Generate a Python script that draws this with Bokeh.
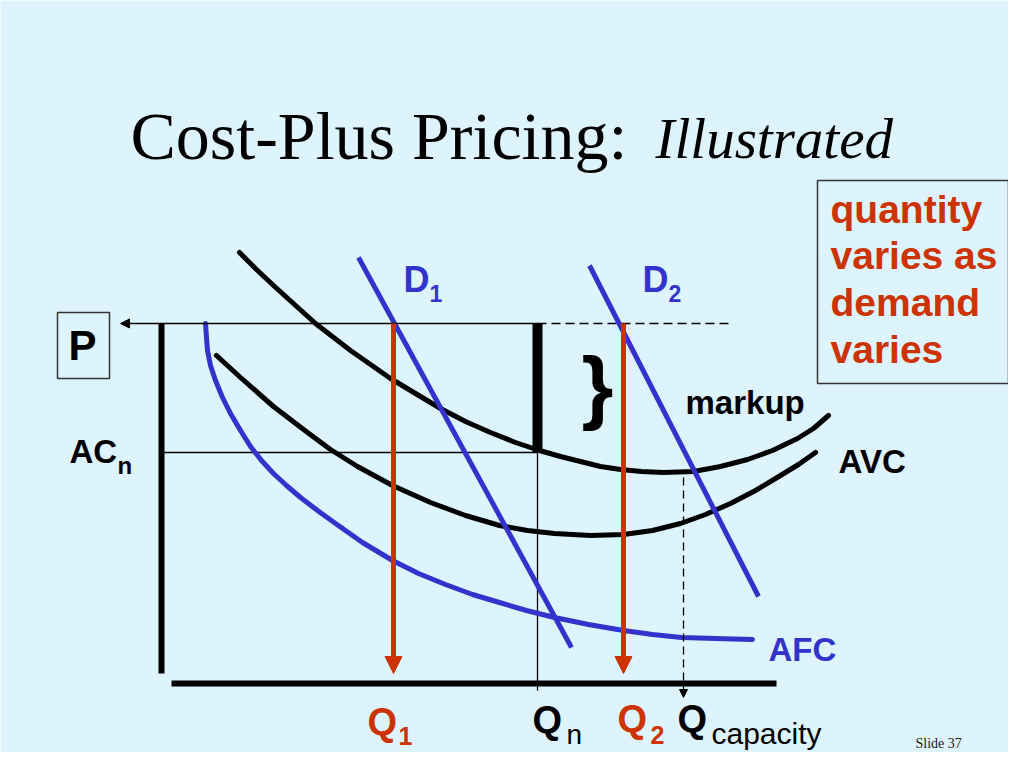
from bokeh.plotting import figure
from bokeh.models import Range1d, Arrow, NormalHead
from bokeh.core.properties import value
from bokeh.embed import file_html
from bokeh.resources import INLINE

# ---- data (quantity q, price p; origin at the axes corner) ----
ac_q = [78, 95, 112, 133, 154, 189, 209, 229, 254, 279, 304, 329, 354, 378, 399, 419,
        439, 459, 480, 502, 532, 559, 586, 611, 636, 652, 667]
ac_p = [431, 414, 398, 379, 360, 333, 319, 305, 290, 275, 262, 251, 241, 233, 227, 222,
        217, 214, 212, 211, 212, 217, 224, 233, 245, 255, 268]

avc_q = [55, 79, 112, 146, 169, 196, 231, 269, 304, 338, 366, 393, 429, 462, 491, 519,
         544, 569, 594, 619, 637, 654]
avc_p = [328, 306, 277, 251, 234, 217, 198, 181, 168, 158, 153, 150, 148, 149, 153, 160,
         169, 180, 193, 208, 219, 231]

afc_q = [44, 45, 46, 49, 54, 61, 69, 79, 89, 100, 112, 125, 139, 156, 174, 201, 231, 257,
         284, 311, 338, 365, 393, 427, 462, 491, 520, 554, 591]
afc_p = [360, 346, 333, 318, 303, 286, 270, 253, 237, 223, 210, 198, 186, 173, 160, 141,
         123, 110, 99, 89, 81, 73, 66, 59, 53, 49, 46, 45, 44]

d1_q = [197, 410]
d1_p = [426, 36]
d2_q = [428, 597]
d2_p = [418, 87]

price_P = 360      # P
price_ACn = 231    # AC_n
q_n = 376          # Q_n
q_1 = 232          # Q1
q_2 = 462          # Q2
q_cap = 522        # Q capacity
ac_min = 206       # just under the AC minimum
q_axis_end = 615
p_axis_top = 360

RED = "#CC3300"
BLUE = "#3333CC"
BG = "#DDF3FD"
SANS = "Liberation Sans"
SERIF = "Liberation Serif"

p = figure(width=1008, height=752, output_backend="svg", toolbar_location=None,
           x_range=Range1d(-161, 847), y_range=Range1d(-69, 683),
           min_border=0, background_fill_color=BG, border_fill_color=BG,
           outline_line_color=None)
p.axis.visible = False
p.grid.visible = False

# axes
p.line([0, 0], [p_axis_top, 10], line_width=6, color="black")
p.line([10, q_axis_end], [0, 0], line_width=6, color="black")

# guide lines
p.add_layout(Arrow(x_start=q_n, y_start=price_P, x_end=-41, y_end=price_P,
                   line_width=1.3, line_color="black",
                   end=NormalHead(size=9, fill_color="black", line_color="black", line_width=1)))
p.line([q_n, 572], [price_P, price_P], line_width=1.3, color="black", line_dash="9 5")
p.line([0, q_n], [price_ACn, price_ACn], line_width=1.3, color="black")
p.line([q_n, q_n], [price_ACn, -7], line_width=1.3, color="black")
p.line([q_n, q_n], [price_ACn, price_P], line_width=10, color="black")
p.add_layout(Arrow(x_start=q_cap, y_start=ac_min, x_end=q_cap, y_end=-14,
                   line_width=1.3, line_color="black", line_dash="8 5",
                   end=NormalHead(size=8, fill_color="black", line_color="black", line_width=1)))

# curves
p.line(ac_q, ac_p, line_width=5, color="black", line_join="round", line_cap="round")
p.line(avc_q, avc_p, line_width=5, color="black", line_join="round", line_cap="round")
p.line(afc_q, afc_p, line_width=5, color=BLUE, line_join="round", line_cap="round")
p.line(d1_q, d1_p, line_width=5, color=BLUE)
p.line(d2_q, d2_p, line_width=5, color=BLUE)

# red arrows
for qq in (q_1, q_2):
    p.add_layout(Arrow(x_start=qq, y_start=price_P, x_end=qq, y_end=10,
                       line_width=5, line_color=RED,
                       end=NormalHead(size=17, fill_color=RED, line_color=RED, line_width=1)))

# boxes
p.quad(left=[656, -104], right=[847, -52], top=[503, 371], bottom=[300, 305],
       fill_alpha=0, line_color="#333333", line_width=1.5)


def txt(x, y, s, size, color="black", style="bold", font=SANS, align="left"):
    p.text(x=[x], y=[y], text=[s], text_font=value(font), text_font_size=f"{size}px",
           text_font_style=style, text_color=color, text_align=align, text_baseline="middle")


# title
txt(-31, 548, "Cost-Plus Pricing:", 68, style="normal", font=SERIF)
txt(494, 545, "Illustrated", 57, style="italic", font=SERIF)

# box text
for yy, s in zip([474, 428, 381, 334], ["quantity", "varies as", "demand", "varies"]):
    txt(669, yy, s, 39, color=RED)

# labels
txt(-79, 338, "P", 42, align="center")
txt(-92, 232, "AC", 33)
txt(-44, 218, "n", 24)
txt(242, 404, "D", 36, color=BLUE)
txt(268, 390, "1", 23, color=BLUE)
txt(481, 404, "D", 36, color=BLUE)
txt(507, 390, "2", 23, color=BLUE)
txt(436, 298, "}", 82, align="center")
txt(524, 281, "markup", 33)
txt(677, 222, "AVC", 33)
txt(607, 34, "AFC", 33, color=BLUE)

# quantity labels
txt(206, -38, "Q", 38, color=RED)
txt(237, -52, "1", 25, color=RED)
txt(371, -36, "Q", 38)
txt(405, -51, "n", 28, style="normal")
txt(456, -35, "Q", 38, color=RED)
txt(489, -51, "2", 25, color=RED)
txt(516, -35, "Q", 38)
txt(550, -50, "capacity", 30, style="normal")

txt(754, -60, "Slide 37", 14, style="normal", font=SERIF, color="#222222")

open("out.html", "w").write(file_html(p, INLINE))
